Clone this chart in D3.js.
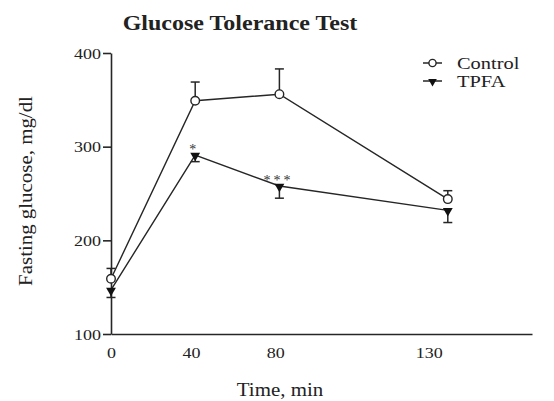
<!DOCTYPE html>
<html>
<head>
<meta charset="utf-8">
<script src="https://cdn.jsdelivr.net/npm/d3@7/dist/d3.min.js"></script>
<style>
  html, body { margin: 0; padding: 0; background: #fff; }
  svg { display: block; }
  text { font-family: "Liberation Serif", "Times New Roman", serif; fill: #222; }
</style>
</head>
<body>
<svg id="chart" width="554" height="401"></svg>
<script>
// ---- data ----
const times = [0, 40, 80, 160];                 // plotted position of each sample
const xTickValues = [0, 38, 78, 151];
const xTickLabels = ["0", "40", "80", "130"];
const yTickValues = [100, 200, 300, 400];
const controlMean = [159, 349, 356, 244];
const controlErr  = [11, 20, 27, 9];            // drawn upward
const tpfaMean    = [147, 291, 258, 232];
const tpfaErr     = [8, 7, 13, 13];             // drawn downward
const tpfaSig     = ["", "*", "***", ""];
const seriesNames = ["Control", "TPFA"];

const svg = d3.select("#chart");
const ink = "#262626";
const serif = '"Liberation Serif", "Times New Roman", serif';

const x = d3.scaleLinear().domain([0, 200]).range([111, 532]);
const y = d3.scaleLinear().domain([100, 400]).range([334, 53]);

function stretch(sel, f) {
  sel.each(function () {
    const w = this.getComputedTextLength();
    d3.select(this).attr("textLength", w * f).attr("lengthAdjust", "spacingAndGlyphs");
  });
}

// title
svg.append("text")
  .attr("x", 240).attr("y", 30)
  .attr("text-anchor", "middle")
  .style("font-family", serif)
  .style("font-weight", "bold").style("font-size", "20px")
  .text("Glucose Tolerance Test")
  .call(stretch, 1.2);

// y axis
const yAxis = svg.append("g")
  .attr("transform", `translate(${x(0)},0)`)
  .call(d3.axisLeft(y).tickValues(yTickValues).tickSize(8).tickSizeOuter(0).tickPadding(2));
yAxis.attr("font-family", null);
yAxis.select(".domain").attr("stroke", ink).attr("stroke-width", 1.6);
yAxis.selectAll(".tick line").attr("stroke", ink).attr("stroke-width", 1.6);
yAxis.selectAll(".tick text")
  .style("font-size", "15px").style("font-family", serif)
  .attr("fill", "#222").attr("dy", "0.35em")
  .call(stretch, 1.2);

// x axis (no ticks)
const xAxis = svg.append("g")
  .attr("transform", `translate(0,${y(100)})`)
  .call(d3.axisBottom(x).tickValues(xTickValues).tickFormat((d, i) => xTickLabels[i])
    .tickSize(0).tickSizeOuter(0).tickPadding(13));
xAxis.attr("font-family", null);
xAxis.select(".domain").attr("stroke", ink).attr("stroke-width", 1.6);
xAxis.selectAll(".tick text")
  .style("font-size", "15px").style("font-family", serif)
  .attr("fill", "#222")
  .call(stretch, 1.2);

// axis titles
svg.append("text")
  .attr("transform", "translate(32,191) rotate(-90)")
  .attr("text-anchor", "middle")
  .style("font-family", serif)
  .style("font-size", "19px")
  .text("Fasting glucose, mg/dl")
  .call(stretch, 1.1);
svg.append("text")
  .attr("x", 280).attr("y", 396)
  .attr("text-anchor", "middle")
  .style("font-family", serif)
  .style("font-size", "19px")
  .text("Time, min")
  .call(stretch, 1.1);

const line = d3.line().x((d, i) => x(times[i])).y(d => y(d));

// error bars
function errBars(mean, err, dir) {
  const g = svg.append("g").attr("stroke", ink).attr("stroke-width", 1.5);
  mean.forEach((m, i) => {
    const end = m + dir * err[i];
    g.append("line").attr("x1", x(times[i])).attr("x2", x(times[i]))
      .attr("y1", y(m)).attr("y2", y(end));
    g.append("line").attr("x1", x(times[i]) - 4.5).attr("x2", x(times[i]) + 4.5)
      .attr("y1", y(end)).attr("y2", y(end));
  });
}
errBars(controlMean, controlErr, 1);
errBars(tpfaMean, tpfaErr, -1);

// lines
svg.append("path").datum(controlMean).attr("d", line)
  .attr("fill", "none").attr("stroke", ink).attr("stroke-width", 1.4);
svg.append("path").datum(tpfaMean).attr("d", line)
  .attr("fill", "none").attr("stroke", ink).attr("stroke-width", 1.4);

// markers
const tri = d3.symbol().type(d3.symbolTriangle).size(42);
svg.append("g").selectAll("circle").data(controlMean).join("circle")
  .attr("cx", (d, i) => x(times[i])).attr("cy", d => y(d)).attr("r", 4.3)
  .attr("fill", "#fff").attr("stroke", ink).attr("stroke-width", 1.4);
svg.append("g").selectAll("path").data(tpfaMean).join("path")
  .attr("d", tri)
  .attr("transform", (d, i) => `translate(${x(times[i])},${y(d) + 0.5}) rotate(180)`)
  .attr("fill", "#111");

// significance marks
svg.append("g").selectAll("text").data(tpfaSig).join("text")
  .attr("x", (d, i) => x(times[i]) - 1)
  .attr("y", (d, i) => y(tpfaMean[i]) - 1)
  .attr("text-anchor", "middle")
  .style("font-family", serif)
  .style("font-size", "14px").style("letter-spacing", "3px")
  .style("fill", "#333")
  .text(d => d);

// legend
const lg = svg.append("g");
seriesNames.forEach((name, i) => {
  const ly = 63 + i * 18;
  lg.append("line").attr("x1", 423).attr("x2", 442).attr("y1", ly).attr("y2", ly)
    .attr("stroke", ink).attr("stroke-width", 1.5);
  if (i === 0) {
    lg.append("circle").attr("cx", 432.5).attr("cy", ly).attr("r", 3.6)
      .attr("fill", "#fff").attr("stroke", ink).attr("stroke-width", 1.4);
  } else {
    lg.append("path").attr("d", d3.symbol().type(d3.symbolTriangle).size(32))
      .attr("transform", `translate(432.5,${ly + 0.5}) rotate(180)`).attr("fill", "#111");
  }
  lg.append("text").attr("x", 457).attr("y", ly + 6)
    .style("font-family", serif)
    .style("font-size", "17px").text(name).call(stretch, 1.2);
});
</script>
</body>
</html>
